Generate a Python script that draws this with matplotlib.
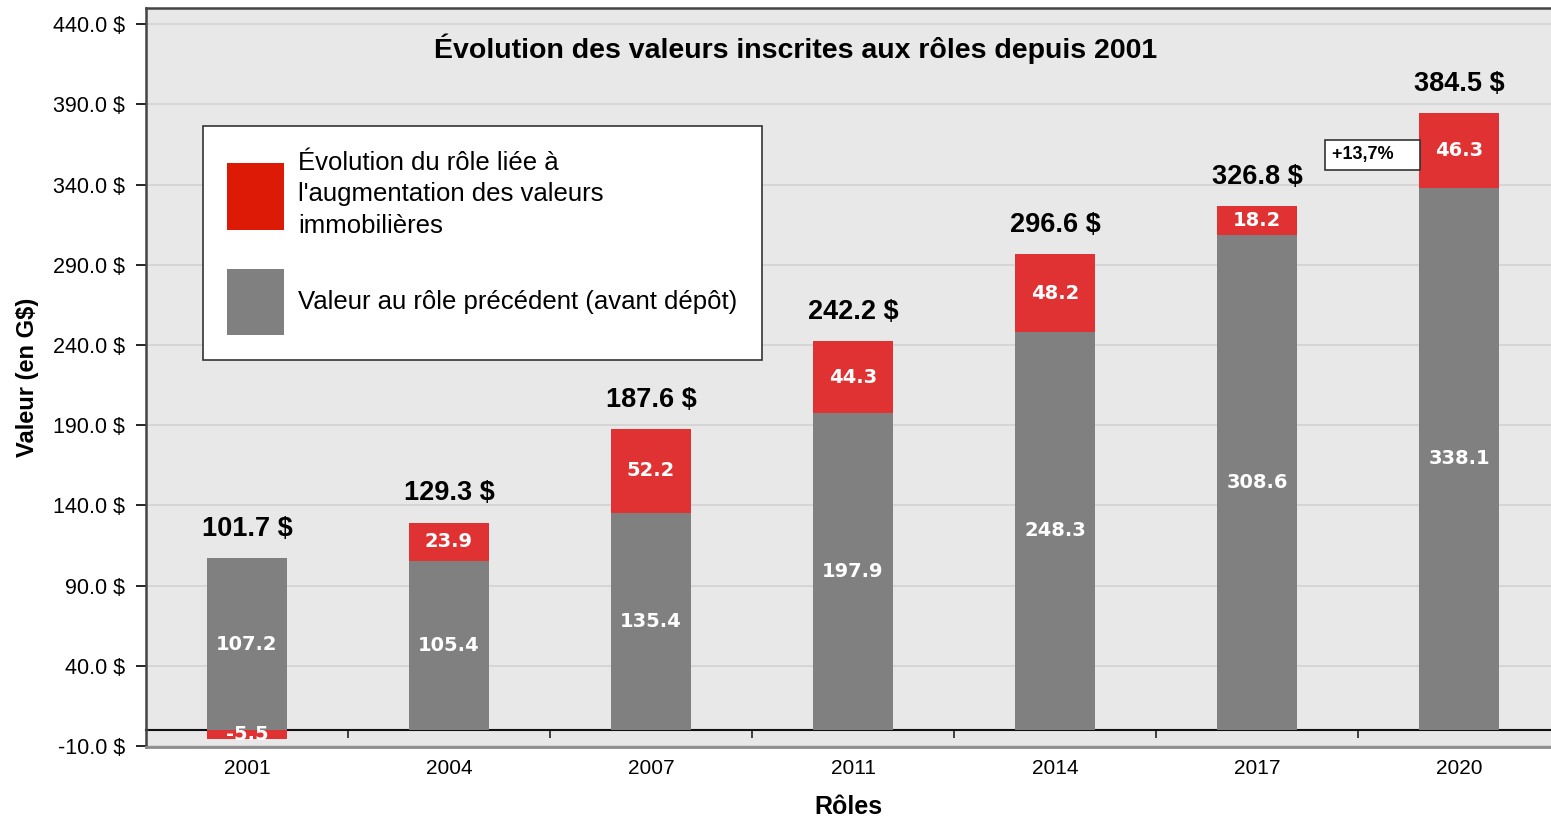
import matplotlib
matplotlib.use("Agg")
import matplotlib.pyplot as plt
from matplotlib.patches import Patch

plt.rcParams["font.family"] = ["Liberation Sans", "DejaVu Sans"]

# Data
roles = ["2001", "2004", "2007", "2011", "2014", "2017", "2020"]
base_values = [107.2, 105.4, 135.4, 197.9, 248.3, 308.6, 338.1]
changes = [-5.5, 23.9, 52.2, 44.3, 48.2, 18.2, 46.3]
totals = [101.7, 129.3, 187.6, 242.2, 296.6, 326.8, 384.5]
y_ticks = [-10, 40, 90, 140, 190, 240, 290, 340, 390, 440]
pct_note = "+13,7%"

GRAY = "#808080"
RED = "#e03232"
LEGEND_RED = "#dd1a06"

fig = plt.figure(figsize=(15.51, 8.17), dpi=100)
ax = fig.add_axes([0.0941, 0.0857, 0.9059, 0.9045])
ax.set_facecolor("#e8e8e8")

x = list(range(len(roles)))
width = 0.4

# Stacked bars
ax.bar(x, base_values, width, color=GRAY, zorder=2)
red_bottoms = [b if c > 0 else 0 for b, c in zip(base_values, changes)]
ax.bar(x, changes, width, bottom=red_bottoms, color=RED, zorder=2)

# Values inside bars
for xi, b, c, rb in zip(x, base_values, changes, red_bottoms):
    ax.text(xi, b / 2, f"{b:.1f}", ha="center", va="center", color="white",
            fontsize=14, fontweight="bold", family="DejaVu Sans", zorder=5)
    ax.text(xi, rb + c / 2, f"{c:.1f}", ha="center", va="center", color="white",
            fontsize=14, fontweight="bold", family="DejaVu Sans", zorder=5)

# Totals above bars
for xi, b, c, t in zip(x, base_values, changes, totals):
    top = max(b, b + c)
    ax.annotate(f"{t:.1f} $", (xi, top), xytext=(0, 21), textcoords="offset points",
                ha="center", va="center", fontsize=19.5, fontweight="bold", zorder=5)

# Axes limits, ticks, grid
ax.set_xlim(-0.5, 6.455)
ax.set_ylim(-10.5, 450)
ax.set_yticks(y_ticks)
ax.set_yticklabels([f"{v:.1f} $" for v in y_ticks], fontsize=15.5)
ax.set_xticks(x)
ax.set_xticklabels(roles, fontsize=15)
ax.tick_params(axis="x", length=0, pad=9)
ax.tick_params(axis="y", length=7, width=1.2, direction="out", pad=8)
ax.yaxis.grid(True, color="#d2d2d2", lw=1.2, zorder=0)
ax.set_axisbelow(True)

for side in ["left", "top"]:
    ax.spines[side].set_color("#444444")
    ax.spines[side].set_linewidth(1.8)
ax.spines["bottom"].set_color("#8c8c8c")
ax.spines["bottom"].set_linewidth(2)
ax.spines["right"].set_visible(False)

# Zero line with category separators
zero_loc = (0 - ax.get_ylim()[0]) / (ax.get_ylim()[1] - ax.get_ylim()[0])
sec = ax.secondary_xaxis(zero_loc)
sec.set_xticks([i + 0.5 for i in x[:-1]])
sec.set_xticklabels([])
sec.tick_params(length=6, width=1.2, direction="out", color="#222222")
sec.spines["bottom"].set_linewidth(1.5)
sec.spines["bottom"].set_color("#111111")

ax.set_xlabel("Rôles", fontsize=18, fontweight="bold", labelpad=12)
ax.set_ylabel("Valeur (en G$)", fontsize=17, fontweight="bold", labelpad=10)

# Title inside the plot
ax.text(0.462, 0.945, "Évolution des valeurs inscrites aux rôles depuis 2001",
        transform=ax.transAxes, ha="center", va="center", fontsize=20.5, fontweight="bold")

# Percentage note
ax.text(5.37, 358.5, pct_note + "    ", ha="left", va="center", fontsize=13,
        fontweight="bold",
        bbox=dict(boxstyle="square,pad=0.35", fc="white", ec="#333333", lw=1.2), zorder=6)

# Legend
handles = [Patch(facecolor=LEGEND_RED, edgecolor="none"),
           Patch(facecolor=GRAY, edgecolor="none")]
labels = ["Évolution du rôle liée à\nl'augmentation des valeurs\nimmobilières",
          "Valeur au rôle précédent (avant dépôt)"]
leg = ax.legend(handles, labels, loc="upper left", bbox_to_anchor=(0.0406, 0.84),
                borderaxespad=0, fontsize=18.5, handlelength=2.2, handleheight=3.6,
                handletextpad=0.55, labelspacing=1.2, borderpad=0.95, fancybox=False,
                framealpha=1, edgecolor="#333333")
leg.get_frame().set_linewidth(1.2)
for t in leg.get_texts():
    t.set_linespacing(1.4)

fig.savefig("out.png", dpi=100)
